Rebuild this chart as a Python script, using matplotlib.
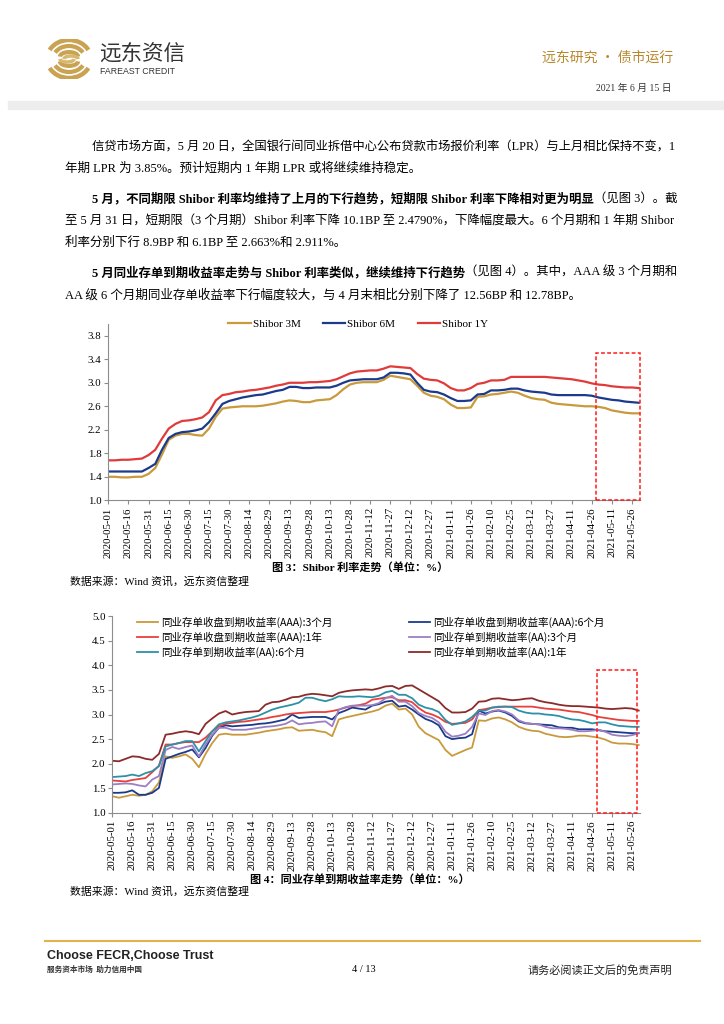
import numpy as np
import pandas as pd
import matplotlib
matplotlib.use('Agg')
import matplotlib.pyplot as plt
import matplotlib.dates as mdates
from matplotlib.patches import Rectangle, Arc
from matplotlib.lines import Line2D

SERIF = ['Liberation Serif', 'Noto Sans CJK SC']
CJK = ['Noto Sans CJK SC', 'DejaVu Sans']
plt.rcParams['font.family'] = SERIF

W, H = 724, 1024

# sampled every 5 days, 2020-05-01 .. 2021-05-31
dates = pd.date_range('2020-05-01', '2021-05-31', freq='5D')

shibor_3m = [1.40, 1.40, 1.39, 1.39, 1.40, 1.40, 1.45, 1.55, 1.78, 2.03,
             2.10, 2.13, 2.13, 2.11, 2.10, 2.22, 2.42, 2.56, 2.58, 2.59,
             2.60, 2.60, 2.60, 2.61, 2.63, 2.65, 2.68, 2.70, 2.69, 2.67,
             2.67, 2.70, 2.71, 2.72, 2.79, 2.89, 2.97, 3.00, 3.01, 3.01,
             3.01, 3.05, 3.12, 3.10, 3.08, 3.06, 2.95, 2.83, 2.78, 2.76,
             2.72, 2.63, 2.57, 2.57, 2.58, 2.76, 2.77, 2.80, 2.81, 2.83,
             2.85, 2.83, 2.78, 2.74, 2.72, 2.71, 2.66, 2.64, 2.63, 2.62,
             2.61, 2.60, 2.60, 2.59, 2.57, 2.53, 2.51, 2.49, 2.48, 2.48]
shibor_6m = [1.49, 1.49, 1.49, 1.49, 1.49, 1.49, 1.55, 1.62, 1.86, 2.06,
             2.13, 2.16, 2.17, 2.19, 2.22, 2.33, 2.48, 2.64, 2.69, 2.72,
             2.75, 2.77, 2.79, 2.80, 2.83, 2.86, 2.88, 2.93, 2.93, 2.91,
             2.91, 2.92, 2.92, 2.92, 2.95, 3.00, 3.04, 3.05, 3.06, 3.06,
             3.06, 3.09, 3.17, 3.17, 3.16, 3.14, 3.00, 2.88, 2.85, 2.84,
             2.80, 2.74, 2.69, 2.69, 2.70, 2.80, 2.81, 2.87, 2.87, 2.88,
             2.90, 2.90, 2.87, 2.85, 2.84, 2.83, 2.80, 2.79, 2.79, 2.79,
             2.79, 2.79, 2.78, 2.75, 2.73, 2.71, 2.70, 2.68, 2.67, 2.66]
shibor_1y = [1.68, 1.68, 1.69, 1.69, 1.70, 1.71, 1.77, 1.86, 2.05, 2.22,
             2.30, 2.35, 2.36, 2.38, 2.41, 2.50, 2.70, 2.79, 2.81, 2.84,
             2.85, 2.87, 2.88, 2.90, 2.92, 2.95, 2.97, 3.00, 3.00, 3.00,
             3.01, 3.01, 3.02, 3.03, 3.06, 3.11, 3.16, 3.19, 3.20, 3.21,
             3.21, 3.24, 3.28, 3.27, 3.26, 3.25, 3.15, 3.07, 3.05, 3.04,
             2.99, 2.91, 2.87, 2.87, 2.91, 2.98, 3.00, 3.04, 3.04, 3.05,
             3.10, 3.10, 3.10, 3.10, 3.10, 3.10, 3.09, 3.08, 3.07, 3.06,
             3.04, 3.02, 2.99, 2.97, 2.96, 2.94, 2.93, 2.92, 2.92, 2.91]

aaa_3m = [1.34, 1.31, 1.34, 1.37, 1.35, 1.37, 1.44, 1.62, 2.15, 2.12,
          2.15, 2.19, 2.10, 1.93, 2.20, 2.42, 2.59, 2.61, 2.59, 2.59,
          2.59, 2.61, 2.63, 2.66, 2.68, 2.70, 2.73, 2.74, 2.67, 2.68,
          2.69, 2.66, 2.64, 2.56, 2.90, 2.94, 2.97, 3.00, 3.03, 3.06,
          3.10, 3.18, 3.22, 3.10, 3.12, 3.00, 2.75, 2.62, 2.55, 2.48,
          2.28, 2.16, 2.22, 2.28, 2.33, 2.88, 2.87, 2.92, 2.94, 2.90,
          2.84, 2.75, 2.70, 2.67, 2.66, 2.61, 2.58, 2.55, 2.54, 2.55,
          2.57, 2.57, 2.55, 2.53, 2.49, 2.43, 2.41, 2.41, 2.40, 2.38]
aaa_6m = [1.41, 1.41, 1.42, 1.46, 1.37, 1.37, 1.41, 1.51, 2.10, 2.15,
          2.20, 2.24, 2.29, 2.13, 2.32, 2.57, 2.73, 2.78, 2.76, 2.77,
          2.78, 2.79, 2.81, 2.82, 2.84, 2.87, 2.90, 3.00, 2.93, 2.94,
          2.95, 2.95, 2.95, 2.90, 3.03, 3.08, 3.14, 3.12, 3.10, 3.18,
          3.21, 3.26, 3.28, 3.16, 3.18, 3.10, 3.00, 2.91, 2.86, 2.78,
          2.56, 2.50, 2.52, 2.53, 2.60, 3.08, 3.02, 3.06, 3.08, 3.04,
          2.97, 2.86, 2.82, 2.81, 2.80, 2.79, 2.78, 2.74, 2.73, 2.73,
          2.70, 2.70, 2.70, 2.68, 2.66, 2.65, 2.64, 2.63, 2.62, 2.62]
aaa_1y = [1.66, 1.65, 1.64, 1.67, 1.69, 1.71, 1.83, 1.96, 2.39, 2.39,
          2.42, 2.44, 2.44, 2.44, 2.53, 2.66, 2.76, 2.81, 2.83, 2.85,
          2.86, 2.88, 2.90, 2.92, 2.95, 2.97, 3.00, 3.02, 3.03, 3.04,
          3.05, 3.05, 3.05, 3.07, 3.10, 3.14, 3.17, 3.19, 3.22, 3.30,
          3.32, 3.34, 3.35, 3.29, 3.29, 3.25, 3.13, 3.04, 3.00, 2.94,
          2.85, 2.81, 2.82, 2.83, 2.90, 3.09, 3.11, 3.14, 3.15, 3.16,
          3.16, 3.16, 3.16, 3.16, 3.14, 3.12, 3.11, 3.10, 3.08, 3.06,
          3.05, 3.02, 2.99, 2.95, 2.93, 2.91, 2.89, 2.88, 2.87, 2.87]
aa_3m = [1.58, 1.59, 1.60, 1.59, 1.56, 1.54, 1.68, 1.75, 2.28, 2.34,
         2.30, 2.34, 2.37, 2.15, 2.39, 2.59, 2.73, 2.73, 2.69, 2.69,
         2.69, 2.71, 2.73, 2.75, 2.76, 2.78, 2.81, 2.88, 2.80, 2.82,
         2.83, 2.85, 2.86, 2.76, 3.10, 3.15, 3.18, 3.18, 3.18, 3.19,
         3.23, 3.33, 3.38, 3.26, 3.26, 3.17, 3.03, 2.97, 2.93, 2.84,
         2.65, 2.55, 2.57, 2.61, 2.75, 3.02, 2.99, 3.07, 3.09, 3.06,
         3.00, 2.88, 2.83, 2.81, 2.80, 2.75, 2.72, 2.72, 2.71, 2.69,
         2.66, 2.66, 2.67, 2.69, 2.65, 2.59, 2.57, 2.56, 2.58, 2.62]
aa_6m = [1.73, 1.74, 1.75, 1.78, 1.75, 1.81, 1.85, 1.95, 2.35, 2.39,
         2.42, 2.46, 2.46, 2.25, 2.46, 2.66, 2.80, 2.84, 2.86, 2.88,
         2.91, 2.94, 2.98, 3.04, 3.10, 3.14, 3.17, 3.20, 3.24, 3.34,
         3.34, 3.30, 3.27, 3.31, 3.37, 3.36, 3.36, 3.37, 3.36, 3.35,
         3.38, 3.45, 3.48, 3.40, 3.40, 3.33, 3.20, 3.14, 3.11, 3.05,
         2.89, 2.79, 2.82, 2.86, 2.95, 3.08, 3.08, 3.14, 3.16, 3.16,
         3.15, 3.08, 3.04, 3.02, 3.02, 3.00, 2.99, 2.97, 2.93, 2.90,
         2.89, 2.86, 2.82, 2.84, 2.84, 2.80, 2.77, 2.76, 2.75, 2.75]
aa_1y = [2.06, 2.05, 2.10, 2.15, 2.14, 2.10, 2.08, 2.20, 2.59, 2.61,
         2.64, 2.66, 2.64, 2.60, 2.81, 2.92, 3.02, 3.07, 3.00, 3.03,
         3.05, 3.06, 3.07, 3.20, 3.25, 3.26, 3.30, 3.35, 3.36, 3.40,
         3.42, 3.41, 3.39, 3.37, 3.44, 3.47, 3.49, 3.50, 3.51, 3.50,
         3.53, 3.57, 3.58, 3.52, 3.58, 3.59, 3.51, 3.43, 3.35, 3.27,
         3.13, 3.04, 3.04, 3.05, 3.12, 3.26, 3.27, 3.32, 3.33, 3.31,
         3.29, 3.30, 3.32, 3.33, 3.28, 3.25, 3.23, 3.20, 3.18, 3.17,
         3.17, 3.16, 3.15, 3.14, 3.12, 3.11, 3.12, 3.13, 3.12, 3.08]

tick_dates = pd.date_range('2020-05-01', periods=27, freq='15D')

GOLD = '#C99A3C'
BLUE = '#1B3A8C'
RED = '#E03A3A'

fig = plt.figure(figsize=(W / 100, H / 100), dpi=100)
renderer = fig.canvas.get_renderer()


def fx(x):
    return x / W


def fy(y):
    return 1 - y / H


def put(x, y, s, size, **kw):
    return fig.text(fx(x), fy(y), s, fontsize=size, va='center', **kw)


def rich_line(x, y, parts, size=9, right=None):
    # draw once, measure, then shrink/stretch the size to fill the line
    scale = 1.0
    for attempt in range(2):
        xx = x
        made = []
        for s, bold in parts:
            t = put(xx, y, s, size * scale, ha='left',
                    fontweight='bold' if bold else 'normal')
            made.append(t)
            xx = t.get_window_extent(renderer=renderer).x1
        if right is None or attempt == 1:
            break
        scale = min(1.08, max(0.92, (right - x) / (xx - x)))
        for t in made:
            t.remove()


# ---------- header ----------
logo = fig.add_axes([fx(43), fy(79), fx(52), 40 / H])
logo.set_xlim(-1.15, 1.15)
logo.set_ylim(-1.0, 1.0)
logo.set_aspect('equal')
logo.axis('off')
for w, h, lw in [(2.2, 1.9, 3.2), (1.6, 1.3, 3.0)]:
    logo.add_patch(Arc((0, 0), w, h, theta1=25, theta2=155, color='#C9A252', lw=lw))
    logo.add_patch(Arc((0, 0), w, h, theta1=205, theta2=335, color='#C9A252', lw=lw))
logo.add_patch(Arc((0.0, 0.12), 0.9, 0.45, theta1=0, theta2=180, color='#C9A252', lw=3))
logo.add_patch(Arc((0.0, -0.12), 0.9, 0.45, theta1=180, theta2=360, color='#C9A252', lw=3))
logo.add_patch(Arc((-0.1, 0.0), 0.7, 0.3, theta1=180, theta2=360, color='#D8B86E', lw=2.5))
logo.add_patch(Arc((0.1, 0.0), 0.7, 0.3, theta1=0, theta2=180, color='#D8B86E', lw=2.5))

put(99, 54, '远东资信', 15.5, ha='left', family=CJK, color='#333333')
put(100, 71, 'FAREAST CREDIT', 6.3, ha='left', family=['Liberation Sans'], color='#333333')
put(673, 58, '远东研究 • 债市运行', 10, ha='right', family=CJK, color='#B8862B')
put(672, 88, '2021 年 6 月 15 日', 7, ha='right', color='#333333')
fig.patches.append(Rectangle((fx(8), fy(109)), 1 - fx(8), 8 / H, transform=fig.transFigure,
                             color='#EDEDED', zorder=0))

# ---------- body text ----------
R = 677
rich_line(92, 147, [('信贷市场方面，5 月 20 日，全国银行间同业拆借中心公布贷款市场报价利率（LPR）与上月相比保持不变，1', False)], right=R)
rich_line(65, 169, [('年期 LPR 为 3.85%。预计短期内 1 年期 LPR 或将继续维持稳定。', False)])
rich_line(92, 199, [('5 月，不同期限 Shibor 利率均维持了上月的下行趋势，短期限 Shibor 利率下降相对更为明显', True),
                    ('（见图 3）。截', False)], right=R)
rich_line(65, 221, [('至 5 月 31 日，短期限（3 个月期）Shibor 利率下降 10.1BP 至 2.4790%，下降幅度最大。6 个月期和 1 年期 Shibor', False)], right=R)
rich_line(65, 243, [('利率分别下行 8.9BP 和 6.1BP 至 2.663%和 2.911%。', False)])
rich_line(92, 273, [('5 月同业存单到期收益率走势与 Shibor 利率类似，继续维持下行趋势', True),
                    ('（见图 4）。其中，AAA 级 3 个月期和', False)], right=R)
rich_line(65, 295, [('AA 级 6 个月期同业存单收益率下行幅度较大，与 4 月末相比分别下降了 12.56BP 和 12.78BP。', False)])


def style_axis(ax, yticks, xlim_days):
    ax.set_xlim(dates[0], dates[0] + pd.Timedelta(days=xlim_days))
    ax.set_xticks(tick_dates)
    ax.xaxis.set_major_formatter(mdates.DateFormatter('%Y-%m-%d'))
    ax.set_yticks(yticks)
    ax.set_yticklabels([f'{v:.1f}' for v in yticks])
    for s in ['top', 'right']:
        ax.spines[s].set_visible(False)
    for s in ['left', 'bottom']:
        ax.spines[s].set_color('#8C8C8C')
        ax.spines[s].set_linewidth(0.8)
    ax.tick_params(axis='x', labelrotation=90, labelsize=7.8, length=3, color='#8C8C8C', pad=2)
    ax.tick_params(axis='y', labelsize=7.8, length=3, color='#8C8C8C', pad=2)


def red_box(ax, start, end, top):
    x0 = mdates.date2num(pd.Timestamp(start))
    x1 = mdates.date2num(pd.Timestamp(end))
    ax.add_patch(Rectangle((x0, 1.0), x1 - x0, top - 1.0, fill=False, ec='#FF1A1A',
                           lw=1.1, ls=(0, (2.5, 1.5)), clip_on=False, zorder=5))


# ---------- chart 3 ----------
ax1 = fig.add_axes([fx(108.3), fy(500.3), (640 - 108.3) / W, (500.3 - 324) / H])
ax1.plot(dates, shibor_3m, color=GOLD, lw=1.6, label='Shibor 3M')
ax1.plot(dates, shibor_6m, color=BLUE, lw=1.6, label='Shibor 6M')
ax1.plot(dates, shibor_1y, color=RED, lw=1.6, label='Shibor 1Y')
ax1.set_ylim(1.0, 4.0)
style_axis(ax1, np.arange(1.0, 3.81, 0.4), 396)
red_box(ax1, '2021-04-29', '2021-06-01', 3.51)
ax1.legend(loc='center', bbox_to_anchor=(0.47, 1.0), ncol=3, frameon=False, fontsize=8,
           handlelength=2.0, handletextpad=0.2, columnspacing=2.0, borderaxespad=0)

put(360, 567, '图 3：Shibor 利率走势（单位：%）', 8, ha='center', fontweight='bold')
put(70, 582, '数据来源：Wind 资讯，远东资信整理', 7.8, ha='left')

# ---------- chart 4 ----------
ax2 = fig.add_axes([fx(112.3), fy(813), (640 - 112.3) / W, (813 - 616) / H])
names = ['同业存单收盘到期收益率(AAA):3个月', '同业存单收盘到期收益率(AAA):6个月',
         '同业存单收盘到期收益率(AAA):1年', '同业存单到期收益率(AA):3个月',
         '同业存单到期收益率(AA):6个月', '同业存单到期收益率(AA):1年']
series = [aaa_3m, aaa_6m, aaa_1y, aa_3m, aa_6m, aa_1y]
colors = [GOLD, BLUE, '#E8403C', '#9B7FC4', '#2E90A8', '#8B2B2B']
h = {}
for n, v, c in zip(names, series, colors):
    h[n], = ax2.plot(dates, v, color=c, lw=1.3, label=n)
ax2.set_ylim(1.0, 5.0)
style_axis(ax2, np.arange(1.0, 5.01, 0.5), 396)
red_box(ax2, '2021-04-30', '2021-05-30', 3.9)

leg_kw = dict(frameon=False, prop={'family': CJK, 'size': 7.6}, handlelength=2.0,
              handletextpad=0.3, labelspacing=0.35, borderaxespad=0, borderpad=0)
left_names = [names[0], names[2], names[4]]
right_names = [names[1], names[3], names[5]]
lg1 = ax2.legend([h[n] for n in left_names], left_names, loc='upper left',
                 bbox_to_anchor=((137 - 112.3) / 527.7, (813 - 617) / 197), **leg_kw)
ax2.add_artist(lg1)
ax2.legend([h[n] for n in right_names], right_names, loc='upper left',
           bbox_to_anchor=((409 - 112.3) / 527.7, (813 - 617) / 197), **leg_kw)

put(360, 879, '图 4：同业存单到期收益率走势（单位：%）', 8, ha='center', fontweight='bold')
put(70, 892, '数据来源：Wind 资讯，远东资信整理', 7.8, ha='left')

# ---------- footer ----------
fig.lines.append(Line2D([fx(45), fx(700)], [fy(941), fy(941)], transform=fig.transFigure,
                        color='#E2B24E', lw=1.5))
put(47, 956, 'Choose FECR,Choose Trust', 9, ha='left', family=['Liberation Sans'],
    fontweight='bold', color='#222222')
put(47, 969, '服务资本市场  助力信用中国', 5.5, ha='left', family=CJK, fontweight='bold', color='#333333')
put(364, 970, '4 / 13', 7.5, ha='center')
put(672, 970, '请务必阅读正文后的免责声明', 8, ha='right', color='#222222')

fig.savefig('out.png', dpi=100)
